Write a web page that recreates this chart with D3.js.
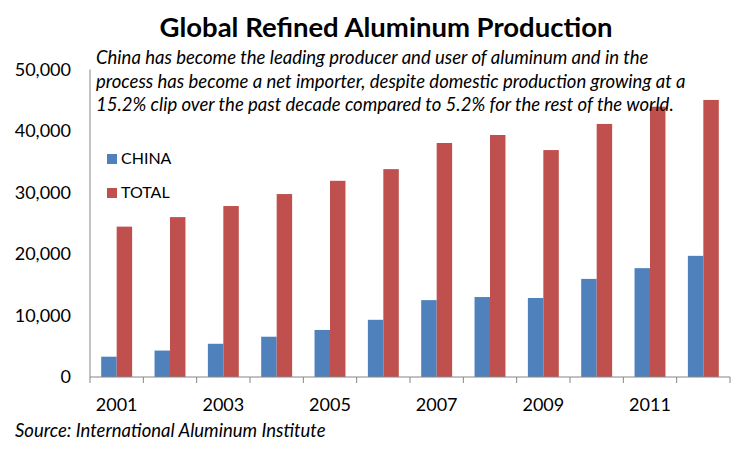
<!DOCTYPE html>
<html>
<head>
<meta charset="utf-8">
<script src="https://cdn.jsdelivr.net/npm/d3@7"></script>
<style>
  body { margin: 0; background: #ffffff; }
  svg { display: block; font-family: Lato, "Open Sans", sans-serif; }
</style>
</head>
<body>
<svg id="chart" width="750" height="452"></svg>
<script>
// Data (thousand tonnes)
const years = ["2001", "2002", "2003", "2004", "2005", "2006", "2007", "2008", "2009", "2010", "2011", "2012"];
const seriesNames = ["CHINA", "TOTAL"];
const chinaValues = [3300, 4300, 5400, 6550, 7650, 9300, 12500, 13000, 12850, 15950, 17700, 19700];
const totalValues = [24450, 26000, 27800, 29750, 31900, 33800, 38050, 39350, 36900, 41150, 43950, 45050];
const yTicks = [0, 10000, 20000, 30000, 40000, 50000];
const xLabels = ["2001", "2003", "2005", "2007", "2009", "2011"];
const noteLines = [
    "China has become the leading producer and user of aluminum and in the",
    "process has become a net importer, despite domestic production growing at a",
    "15.2% clip over the past decade compared to 5.2% for the rest of the world."
];

const colors = { CHINA: "#4f81bd", TOTAL: "#c0504d" };
const axisColor = "#868686";

const svg = d3.select("#chart");
const plotLeft = 90, plotRight = 730, plotTop = 69.5, plotBottom = 377;

// Scales
const x0 = d3.scaleBand().domain(years).range([plotLeft, plotRight]).paddingInner(0.42).paddingOuter(0.21);
const x1 = d3.scaleBand().domain(seriesNames).range([0, x0.bandwidth()]);
const xCat = d3.scaleBand().domain(years).range([plotLeft, plotRight]);
const y = d3.scaleLinear().domain([0, 50000]).range([plotBottom, plotTop]);

const rows = years.map((yr, i) => ({ year: yr, CHINA: chinaValues[i], TOTAL: totalValues[i] }));

// Bars
svg.append("g")
    .selectAll("g")
    .data(rows)
    .join("g")
    .attr("transform", d => `translate(${x0(d.year)},0)`)
    .selectAll("rect")
    .data(d => seriesNames.map(k => ({ key: k, value: d[k] })))
    .join("rect")
    .attr("x", d => x1(d.key))
    .attr("width", x1.bandwidth())
    .attr("y", d => y(d.value))
    .attr("height", d => y(0) - y(d.value))
    .attr("fill", d => colors[d.key]);

// Y axis
const yAxis = svg.append("g")
    .attr("transform", `translate(${plotLeft},0)`)
    .call(d3.axisLeft(y).tickValues(yTicks).tickSize(0).tickPadding(19).tickFormat(d3.format(",")));
yAxis.select(".domain").attr("stroke", axisColor).attr("d", `M0,${plotTop}V${plotBottom}`);
yAxis.selectAll("text").attr("font-size", 18).attr("fill", "#000").attr("font-family", "Lato, sans-serif");

// X axis: baseline + ticks on category boundaries
const xAxis = svg.append("g");
xAxis.append("line")
    .attr("x1", plotLeft).attr("x2", plotRight)
    .attr("y1", plotBottom).attr("y2", plotBottom)
    .attr("stroke", axisColor);
xAxis.selectAll("line.tick")
    .data(years.concat(["end"]))
    .join("line")
    .attr("class", "tick")
    .attr("x1", (d, i) => i < years.length ? xCat(d) : plotRight)
    .attr("x2", (d, i) => i < years.length ? xCat(d) : plotRight)
    .attr("y1", plotBottom).attr("y2", plotBottom + 6)
    .attr("stroke", axisColor);
xAxis.selectAll("text")
    .data(xLabels)
    .join("text")
    .attr("x", d => xCat(d) + xCat.bandwidth() / 2)
    .attr("y", 411)
    .attr("text-anchor", "middle")
    .attr("font-size", 18)
    .text(d => d);

// Title
svg.append("text")
    .attr("x", 386).attr("y", 37)
    .attr("text-anchor", "middle")
    .attr("font-size", 27.5)
    .attr("font-weight", "bold")
    .text("Global Refined Aluminum Production");

// Note
svg.append("g")
    .selectAll("text")
    .data(noteLines)
    .join("text")
    .attr("x", 96)
    .attr("y", (d, i) => 64 + i * 23.5)
    .attr("font-size", 18.5)
    .attr("font-style", "italic")
    .text(d => d);

// Legend
const legend = svg.append("g")
    .selectAll("g")
    .data(seriesNames)
    .join("g")
    .attr("transform", (d, i) => `translate(107,${154 + i * 34})`);
legend.append("rect")
    .attr("width", 10).attr("height", 10)
    .attr("fill", d => colors[d]);
legend.append("text")
    .attr("x", 14).attr("y", 10)
    .attr("font-size", 16)
    .text(d => d);

// Source
svg.append("text")
    .attr("x", 15).attr("y", 437)
    .attr("font-size", 18.5)
    .attr("font-style", "italic")
    .text("Source: International Aluminum Institute");
</script>
</body>
</html>
